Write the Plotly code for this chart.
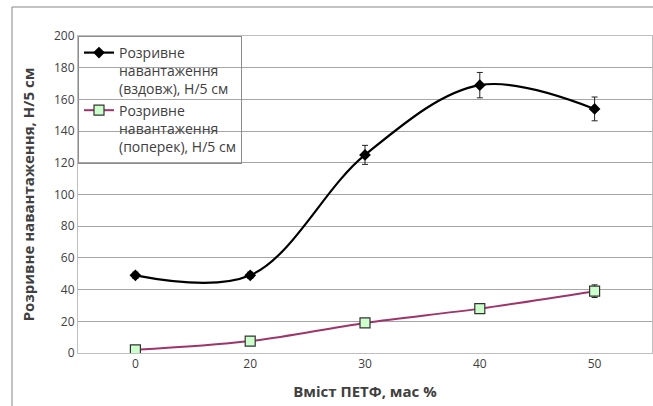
import plotly.graph_objects as go

categories = ["0", "20", "30", "40", "50"]
along_values = [49, 49, 125, 169, 154]
along_errors = [2, 2, 6, 8, 7.5]
across_values = [2, 7.5, 19, 28, 39]
across_errors = [1, 1, 1, 1.5, 4]
y_ticks = [0, 20, 40, 60, 80, 100, 120, 140, 160, 180, 200]

name_along = "Розривне<br>навантаження<br>(вздовж), Н/5 см"
name_across = "Розривне<br>навантаження<br>(поперек), Н/5 см"

xpos = list(range(len(categories)))
FONT = "Open Sans"

fig = go.Figure()
fig.add_trace(go.Scatter(
    x=xpos, y=along_values, name=name_along, mode="lines+markers",
    line=dict(color="black", width=2.2, shape="spline", smoothing=1.0),
    marker=dict(symbol="diamond", size=9, color="black"),
    error_y=dict(type="data", array=along_errors, visible=True, color="#222222", thickness=1, width=3),
))
fig.add_trace(go.Scatter(
    x=xpos, y=across_values, name=name_across, mode="lines+markers",
    line=dict(color="#a0336a", width=2, shape="spline", smoothing=1.0),
    marker=dict(symbol="square", size=10, color="#ccffcc", line=dict(color="#333333", width=1.2)),
    error_y=dict(type="data", array=across_errors, visible=True, color="#222222", thickness=1, width=3),
))

fig.update_layout(
    width=653, height=406,
    margin=dict(l=78, r=1, t=36, b=53, autoexpand=False),
    paper_bgcolor="white", plot_bgcolor="white",
    font=dict(family=FONT, size=12, color="#404040"),
    showlegend=True,
    legend=dict(
        x=0.0, y=1, xanchor="left", yanchor="top",
        bgcolor="rgba(0,0,0,0)", bordercolor="#8c8c8c", borderwidth=1,
        font=dict(family=FONT, size=14, color="#404040"),
        valign="top", tracegroupgap=0, itemwidth=30,
    ),
    xaxis=dict(
        range=[-0.5, 4.5], tickmode="array", tickvals=xpos, ticktext=categories,
        showgrid=False, zeroline=False, showline=True, linecolor="#bfbfbf", linewidth=1, mirror=True,
        ticks="", tickfont=dict(size=12, color="#404040"), automargin=False,
        title=dict(text="<b>Вміст ПЕТФ, мас %</b>", font=dict(size=15, color="#404040")),
    ),
    yaxis=dict(
        range=[0, 200], tickmode="array", tickvals=y_ticks,
        showgrid=True, gridcolor="#a6a6a6", gridwidth=1, zeroline=False,
        showline=True, linecolor="#bfbfbf", linewidth=1, mirror=True,
        ticks="", tickfont=dict(size=12, color="#404040"), automargin=False,
        title=dict(text="<b>Розривне навантаження, Н/5 см</b>", font=dict(size=15, color="#404040")),
    ),
)

fig.add_shape(type="rect", xref="paper", yref="paper",
              x0=-0.115, x1=1.3, y0=-0.6, y1=1.0915,
              line=dict(color="#868686", width=1), fillcolor="rgba(0,0,0,0)", layer="below")

fig.write_html("out.html", config={"displayModeBar": False},
               post_script="document.body.style.margin='0';document.body.style.padding='0';")
